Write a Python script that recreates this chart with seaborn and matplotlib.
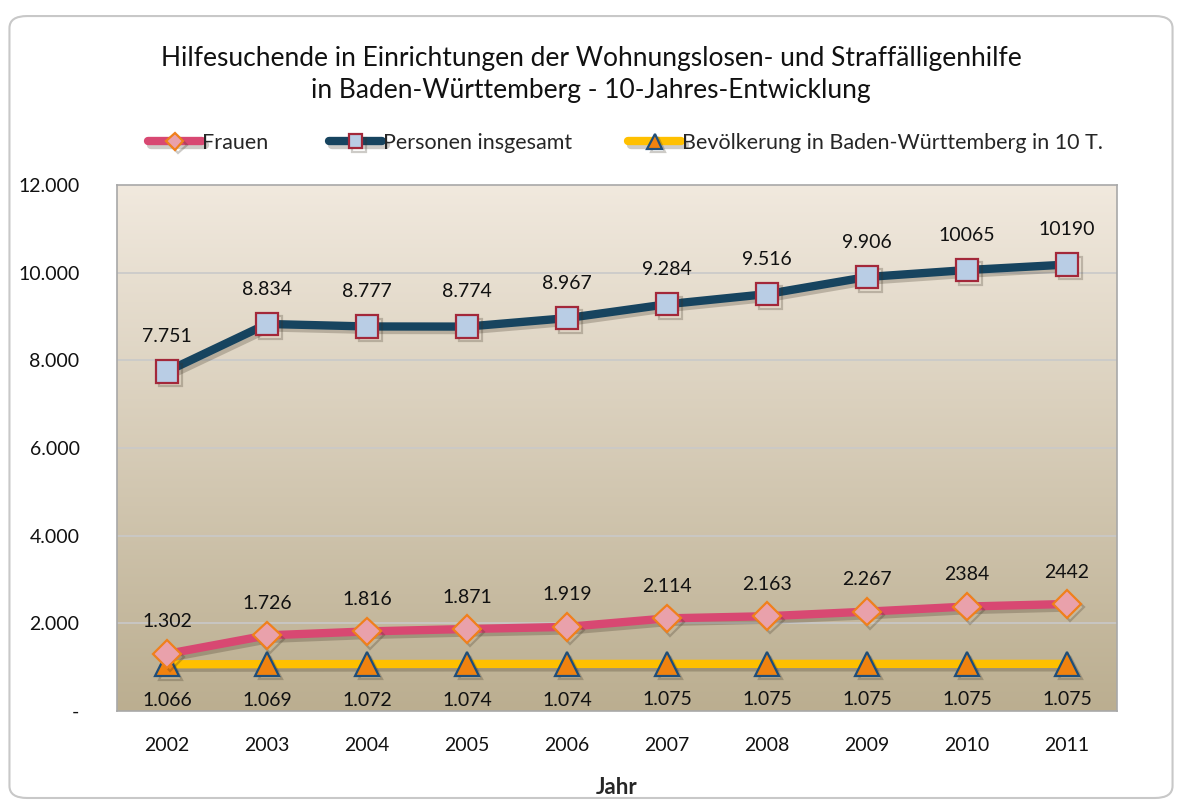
import numpy as np
import pandas as pd
import matplotlib
matplotlib.use("Agg")
import matplotlib.pyplot as plt
import matplotlib.patheffects as pe
from matplotlib.patches import FancyBboxPatch
from matplotlib.colors import LinearSegmentedColormap
import seaborn as sns

years = [2002, 2003, 2004, 2005, 2006, 2007, 2008, 2009, 2010, 2011]
frauen = [1302, 1726, 1816, 1871, 1919, 2114, 2163, 2267, 2384, 2442]
personen = [7751, 8834, 8777, 8774, 8967, 9284, 9516, 9906, 10065, 10190]
bevoelkerung = [1066, 1069, 1072, 1074, 1074, 1075, 1075, 1075, 1075, 1075]

frauen_labels = ["1.302", "1.726", "1.816", "1.871", "1.919", "2.114", "2.163", "2.267", "2384", "2442"]
personen_labels = ["7.751", "8.834", "8.777", "8.774", "8.967", "9.284", "9.516", "9.906", "10065", "10190"]
bev_labels = ["1.066", "1.069", "1.072", "1.074", "1.074", "1.075", "1.075", "1.075", "1.075", "1.075"]

yticks = [0, 2000, 4000, 6000, 8000, 10000, 12000]
ytick_labels = ["-", "2.000", "4.000", "6.000", "8.000", "10.000", "12.000"]

sns.set_style("white")
plt.rcParams['font.family'] = ['Lato', 'DejaVu Sans']

fig = plt.figure(figsize=(11.82, 8.02), dpi=100)
ax = fig.add_axes([0.099, 0.1135, 0.846, 0.6555])

# rounded frame around the chart
frame = FancyBboxPatch((0.008, 0.005), 0.984, 0.975, boxstyle="round,pad=0,rounding_size=0.015",
                       transform=fig.transFigure, facecolor="white", edgecolor="#c8c8c8",
                       linewidth=1.5, zorder=-10)
fig.patches.append(frame)

# gradient background of plot area (light on top, darker at the bottom)
grad = np.linspace(0, 1, 256).reshape(-1, 1)
cmap = LinearSegmentedColormap.from_list("bg", ["#f1e9de", "#bbae90"])
ax.imshow(grad, aspect="auto", cmap=cmap, extent=[2001.5, 2011.5, 0, 12000], origin="upper", zorder=0)

ax.set_xlim(2001.5, 2011.5)
ax.set_ylim(0, 12000)

for y in yticks[1:-1]:
    ax.axhline(y, color="#c9c9c9", lw=1.2, zorder=1)

shadow = [pe.SimpleLineShadow(offset=(2.5, -2.5), shadow_color="#3a3020", alpha=0.25), pe.Normal()]

df = pd.DataFrame({"Jahr": years * 3,
                   "Wert": bevoelkerung + frauen + personen,
                   "Serie": ["Bevölkerung in Baden-Württemberg in 10 T."] * 10
                            + ["Frauen"] * 10 + ["Personen insgesamt"] * 10})

styles = {
    "Bevölkerung in Baden-Württemberg in 10 T.": dict(color="#ffc000", marker="^", mfc="#f0820f", mec="#1f4e79", ms=17),
    "Frauen": dict(color="#d84872", marker="D", mfc="#e9a1ab", mec="#f0801c", ms=14),
    "Personen insgesamt": dict(color="#17445f", marker="s", mfc="#b9cde5", mec="#a3283a", ms=16),
}

for name in ["Bevölkerung in Baden-Württemberg in 10 T.", "Frauen", "Personen insgesamt"]:
    st = styles[name]
    sub = df[df["Serie"] == name]
    sns.lineplot(data=sub, x="Jahr", y="Wert", ax=ax, color=st["color"], lw=6,
                 marker=st["marker"], markersize=st["ms"], markerfacecolor=st["mfc"],
                 markeredgecolor=st["mec"], markeredgewidth=1.6, zorder=3,
                 path_effects=shadow, label=name)

fs = 14
for x, y, t in zip(years, personen, personen_labels):
    ax.annotate(t, (x, y), xytext=(0, 25), textcoords="offset points", ha="center", va="center", fontsize=fs, color="#111111", zorder=5)
for x, y, t in zip(years, frauen, frauen_labels):
    ax.annotate(t, (x, y), xytext=(0, 23), textcoords="offset points", ha="center", va="center", fontsize=fs, color="#111111", zorder=5)
for x, y, t in zip(years, bevoelkerung, bev_labels):
    ax.annotate(t, (x, y), xytext=(0, -26), textcoords="offset points", ha="center", va="center", fontsize=fs, color="#111111", zorder=5)

ax.set_yticks(yticks)
ax.set_yticklabels(ytick_labels)
ax.set_xticks(years)
ax.set_xticklabels([str(y) for y in years])
ax.tick_params(axis="both", length=0, labelsize=14, colors="#111111")
ax.tick_params(axis="y", pad=27)
ax.tick_params(axis="x", pad=19)
ax.set_xlabel("Jahr", fontsize=16, fontweight="bold", labelpad=16)
ax.set_ylabel("")
for s in ax.spines.values():
    s.set_color("#a8a8a8")
    s.set_linewidth(1.2)
    s.set_zorder(6)
ax.set_path_effects([pe.SimplePatchShadow(offset=(3, -3), alpha=0.3), pe.Normal()])

# legend: one entry per box so the uneven spacing of the original can be kept
handles, labels = ax.get_legend_handles_labels()
if ax.legend_:
    ax.legend_.remove()
legend_x = {"Frauen": 0.125, "Personen insgesamt": 0.278,
            "Bevölkerung in Baden-Württemberg in 10 T.": 0.531}
for name, lx in legend_x.items():
    i = labels.index(name)
    fig.legend([handles[i]], [name], loc="center left", bbox_to_anchor=(lx, 0.822),
               frameon=False, fontsize=15.5, borderpad=0, borderaxespad=0,
               handlelength=2.5, handletextpad=0.02, markerscale=0.62)

fig.text(0.5, 0.907, "Hilfesuchende in Einrichtungen der Wohnungslosen- und Straffälligenhilfe\nin Baden-Württemberg - 10-Jahres-Entwicklung",
         ha="center", va="center", fontsize=19, linespacing=1.32, color="#111111")

fig.savefig("out.png", dpi=100)
